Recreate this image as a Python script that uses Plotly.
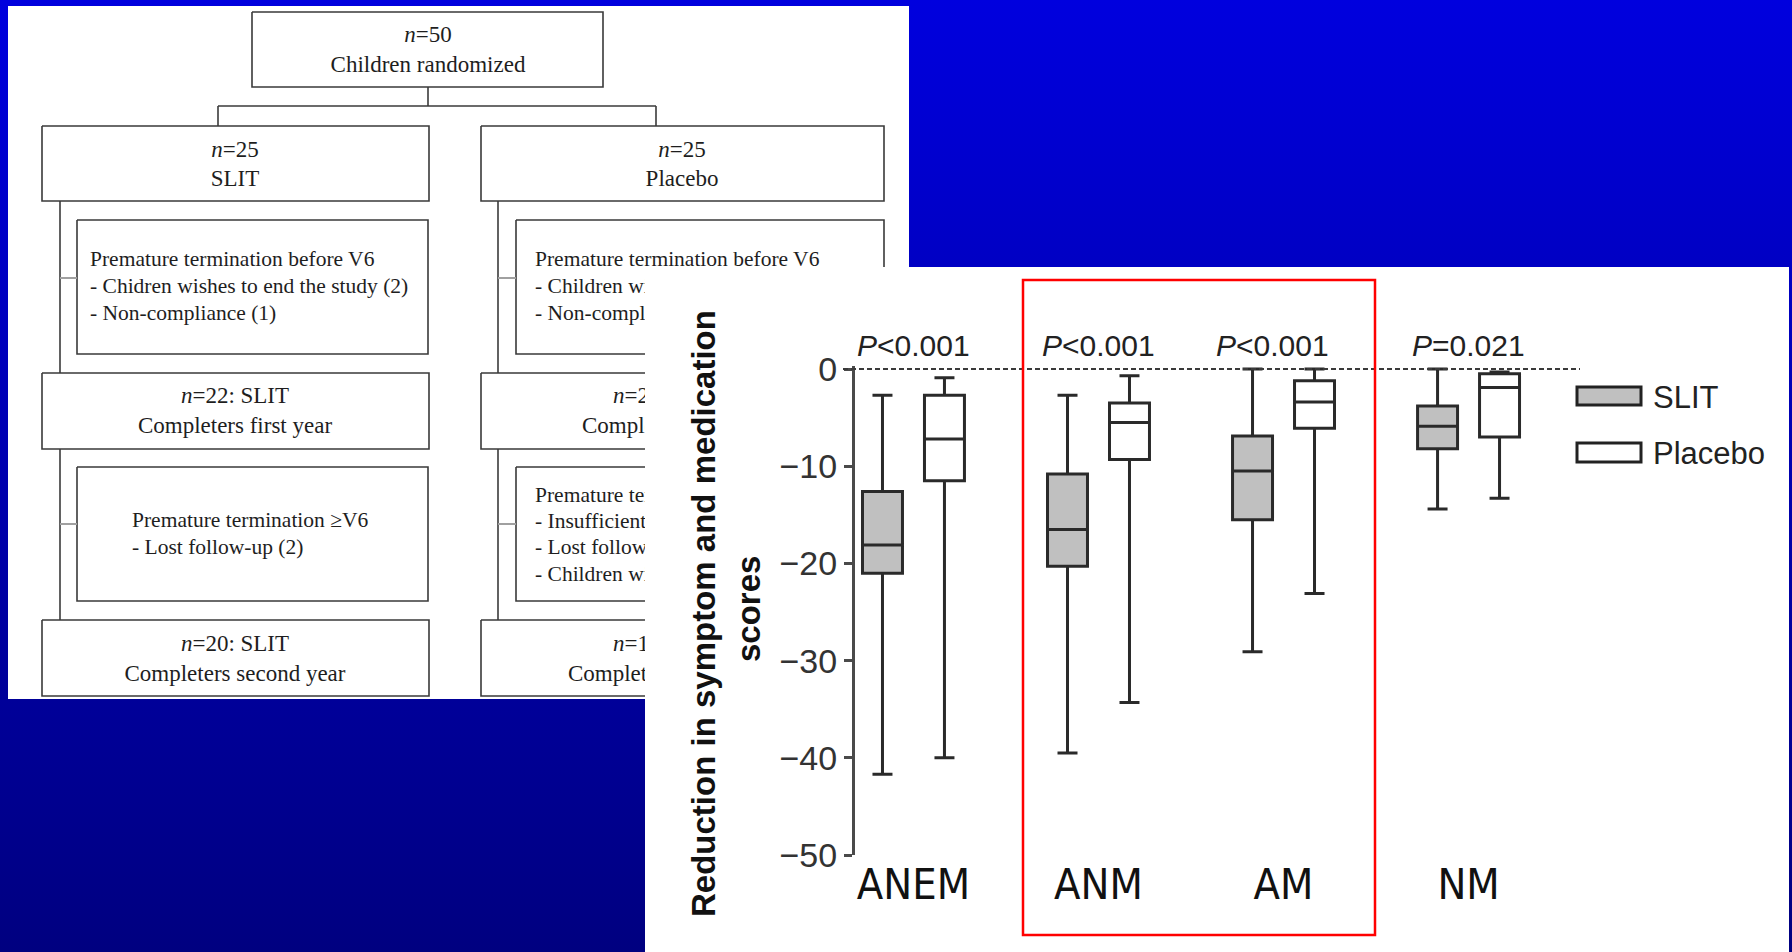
import plotly.graph_objects as go

W, H = 1792, 952

# ---------------- data ----------------
categories = ["ANEM", "ANM", "AM", "NM"]
series_names = ["SLIT", "Placebo"]

slit_lower = [-41.7, -39.5, -29.1, -14.4]
slit_q1 = [-21.0, -20.3, -15.5, -8.2]
slit_median = [-18.1, -16.5, -10.5, -5.9]
slit_q3 = [-12.6, -10.8, -6.9, -3.8]
slit_upper = [-2.7, -2.7, 0.0, 0.0]

placebo_lower = [-40.0, -34.3, -23.1, -13.3]
placebo_q1 = [-11.5, -9.3, -6.1, -7.0]
placebo_median = [-7.2, -5.5, -3.4, -1.9]
placebo_q3 = [-2.7, -3.5, -1.2, -0.5]
placebo_upper = [-0.9, -0.7, 0.0, -0.3]

p_labels = ["<i>P</i>&lt;0.001", "<i>P</i>&lt;0.001", "<i>P</i>&lt;0.001", "<i>P</i>=0.021"]
y_ticks = [0, -10, -20, -30, -40, -50]
y_title_lines = ["Reduction in symptom and medication", "scores"]

# flowchart text (centred lines)
flow_center_text = [
    "<i>n</i>=50", "Children randomized",
    "<i>n</i>=25", "SLIT", "<i>n</i>=25", "Placebo",
    "<i>n</i>=22: SLIT", "Completers first year",
    "<i>n</i>=20: SLIT", "Completers second year",
]
# flowchart text (left-aligned lines); the placebo column is partly hidden
# behind the box-plot panel, so only its visible start is written
flow_left_text = [
    "Premature termination before V6", "- Chidren wishes to end the study (2)", "- Non-compliance (1)",
    "Premature termination before V6", "- Children wi", "- Non-complian",
    "Premature termination \u2265V6", "- Lost follow-up (2)",
    "Premature term", "- Insufficient", "- Lost follow", "- Children wi",
]
flow_left_head = ["<i>n</i>=21:", "Complete", "<i>n</i>=15:", "Complete"]

# ---------------- layout helpers (pixel geometry) ----------------
center_pos = [(428, 36), (428, 66), (235, 151), (235, 180), (682, 151), (682, 180),
              (235, 397), (235, 427), (235, 645), (235, 675)]
left_pos = [(93, 261), (93, 288), (93, 315),
            (538, 261), (538, 288), (538, 315),
            (135, 522), (135, 549),
            (538, 497), (538, 523), (538, 549), (538, 576)]
left_head_pos = [(616, 397), (585, 427), (616, 645), (571, 675)]
flow_boxes = [(252, 12, 603, 87), (42, 126, 429, 201), (481, 126, 884, 201),
              (77, 220, 428, 354), (516, 220, 884, 354),
              (42, 373, 429, 449), (481, 373, 884, 449),
              (77, 467, 428, 601), (516, 467, 884, 601),
              (42, 620, 429, 696), (481, 620, 884, 696)]
flow_lines = [((428, 87), (428, 106)), ((218, 106), (656, 106)),
              ((218, 106), (218, 126)), ((656, 106), (656, 126)),
              ((60, 201), (60, 373)), ((60, 449), (60, 620)),
              ((498, 201), (498, 373)), ((498, 449), (498, 620))]
flow_ticks = [((60, 278), (77, 278)), ((498, 278), (516, 278)),
              ((60, 524), (77, 524)), ((498, 524), (516, 524))]


def px(x):
    return x / W


def py(y):
    return 1 - y / H


def rect_path(x0, y0, x1, y1):
    return [x0, x1, x1, x0, x0, None], [y0, y0, y1, y1, y0, None]


SERIF = "Liberation Serif, Times New Roman, serif"
SANS = "Liberation Sans, Arial, sans-serif"
NARROW = "Liberation Sans Narrow, Arial Narrow, DejaVu Sans Condensed, Liberation Sans, Arial, sans-serif"

fig = go.Figure()

# background gradient
fig.add_trace(go.Scatter(
    x=[0, W, W, 0, 0], y=[0, 0, H, H, 0], mode="lines", fill="toself",
    line=dict(width=0), fillgradient=dict(type="vertical", start=0, stop=H,
                                          colorscale=[[0, "#0000DE"], [1, "#000080"]]),
    hoverinfo="skip", showlegend=False, xaxis="x", yaxis="y"))

# left white panel
fig.add_trace(go.Scatter(
    x=[8, 909, 909, 8, 8], y=[6, 6, 699, 699, 6], mode="lines", fill="toself",
    fillcolor="white", line=dict(width=0), hoverinfo="skip", showlegend=False))

# flowchart outlines
bx, by = [], []
for b in flow_boxes:
    xs, ys = rect_path(*b)
    bx += xs
    by += ys
for (a, b) in flow_lines:
    bx += [a[0], b[0], None]
    by += [a[1], b[1], None]
fig.add_trace(go.Scatter(x=bx, y=by, mode="lines", line=dict(color="#3a3a3a", width=1.6),
                         hoverinfo="skip", showlegend=False))
tx, ty = [], []
for (a, b) in flow_ticks:
    tx += [a[0], b[0], None]
    ty += [a[1], b[1], None]
fig.add_trace(go.Scatter(x=tx, y=ty, mode="lines", line=dict(color="#a0a0a0", width=2),
                         hoverinfo="skip", showlegend=False))

# flowchart text
fig.add_trace(go.Scatter(
    x=[p[0] for p in center_pos], y=[p[1] for p in center_pos], mode="text",
    text=flow_center_text, textposition="middle center",
    textfont=dict(family=SERIF, size=23, color="#1e1e1e"),
    hoverinfo="skip", showlegend=False))
fig.add_trace(go.Scatter(
    x=[p[0] - 3 for p in left_head_pos], y=[p[1] for p in left_head_pos], mode="text",
    text=flow_left_head, textposition="middle right",
    textfont=dict(family=SERIF, size=23, color="#1e1e1e"),
    hoverinfo="skip", showlegend=False))
fig.add_trace(go.Scatter(
    x=[p[0] - 3 for p in left_pos], y=[p[1] for p in left_pos], mode="text",
    text=flow_left_text, textposition="middle right",
    textfont=dict(family=SERIF, size=21.5, color="#1e1e1e"),
    hoverinfo="skip", showlegend=False))

# right white panel (subplot 2 draws over subplot 1)
fig.add_trace(go.Scatter(
    x=[0, 1, 1, 0, 0], y=[0, 0, 1, 1, 0], mode="lines", fill="toself",
    fillcolor="white", line=dict(width=0), hoverinfo="skip", showlegend=False,
    xaxis="x2", yaxis="y2"))

# box plot (subplot 3)
BOX_LINE = "#2a2a2a"
fig.add_trace(go.Box(
    name=series_names[0], x=categories, q1=slit_q1, median=slit_median, q3=slit_q3,
    lowerfence=slit_lower, upperfence=slit_upper, fillcolor="#C0C0C0",
    line=dict(color=BOX_LINE, width=3), whiskerwidth=0.5, boxpoints=False,
    hoverinfo="skip", showlegend=False, xaxis="x3", yaxis="y3"))
fig.add_trace(go.Box(
    name=series_names[1], x=categories, q1=placebo_q1, median=placebo_median, q3=placebo_q3,
    lowerfence=placebo_lower, upperfence=placebo_upper, fillcolor="#FFFFFF",
    line=dict(color=BOX_LINE, width=3), whiskerwidth=0.5, boxpoints=False,
    hoverinfo="skip", showlegend=False, xaxis="x3", yaxis="y3"))

shapes = [
    # zero reference line
    dict(type="line", xref="paper", yref="y3", x0=px(843), x1=px(1580), y0=0, y1=0,
         line=dict(color="#3a3a3a", width=2, dash="5px,3px"), layer="above"),
    # red highlight box
    dict(type="rect", xref="paper", yref="paper", x0=px(1023), x1=px(1375), y0=py(280), y1=py(935),
         line=dict(color="#FF0000", width=2.5), fillcolor="rgba(0,0,0,0)", layer="above"),
    # legend swatches
    dict(type="rect", xref="paper", yref="paper", x0=px(1577), x1=px(1641), y0=py(387), y1=py(405),
         line=dict(color="#222222", width=3), fillcolor="#C0C0C0", layer="above"),
    dict(type="rect", xref="paper", yref="paper", x0=px(1577), x1=px(1641), y0=py(443), y1=py(462),
         line=dict(color="#222222", width=3), fillcolor="#FFFFFF", layer="above"),
]

annotations = []
xshifts = [0, 0, -11, 0]
for cat, lab, xs in zip(categories, p_labels, xshifts):
    annotations.append(dict(x=cat, xref="x3", y=py(345), yref="paper", text=lab, showarrow=False,
                            xshift=xs, font=dict(family=SANS, size=30, color="#222222"),
                            xanchor="center", yanchor="middle"))
for name, yy in zip(series_names, [397, 453]):
    annotations.append(dict(x=px(1651), xref="paper", y=py(yy), yref="paper", text=name,
                            showarrow=False, xanchor="left", yanchor="middle",
                            font=dict(family=SANS, size=31, color="#222222")))
for line_txt, xx, yy in zip(y_title_lines, [703, 748], [614, 609]):
    annotations.append(dict(x=px(xx), xref="paper", y=py(yy), yref="paper", text=line_txt,
                            textangle=-90, showarrow=False, xanchor="center", yanchor="middle",
                            font=dict(family=SANS, size=33, color="#111111", weight="bold")))

hidden = dict(visible=False, showgrid=False, zeroline=False, fixedrange=True, automargin=False)

fig.update_layout(
    template="none",
    width=W, height=H, autosize=False,
    margin=dict(l=0, r=0, t=0, b=0, pad=0, autoexpand=False),
    paper_bgcolor="#000080", plot_bgcolor="rgba(0,0,0,0)",
    showlegend=False,
    boxmode="group", boxgap=0.33, boxgroupgap=0.355,
    xaxis=dict(domain=[0, 1], range=[0, W], anchor="y", **hidden),
    yaxis=dict(domain=[0, 1], range=[H, 0], anchor="x", **hidden),
    xaxis2=dict(domain=[px(645), px(1789)], range=[0, 1], anchor="y2", **hidden),
    yaxis2=dict(domain=[0, py(267)], range=[0, 1], anchor="x2", **hidden),
    xaxis3=dict(domain=[px(855), px(1762)], range=[-0.316, 4.586], anchor="y3",
                type="category", categoryorder="array", categoryarray=categories,
                showline=False, showgrid=False, zeroline=False, ticks="", automargin=False,
                tickfont=dict(family=NARROW, size=43, color="#111111"), fixedrange=True),
    yaxis3=dict(domain=[py(855), py(366)], range=[-50, 0.31], anchor="x3",
                tickmode="array", tickvals=y_ticks, automargin=False,
                showline=True, linecolor="#4a4a4a", linewidth=3,
                ticks="outside", ticklen=8, tickwidth=3, tickcolor="#4a4a4a",
                tickfont=dict(family=SANS, size=34, color="#333333"),
                showgrid=False, zeroline=False, fixedrange=True),
    shapes=shapes,
    annotations=annotations,
)

fig.write_html("out.html", config={"displayModeBar": False, "staticPlot": True})
